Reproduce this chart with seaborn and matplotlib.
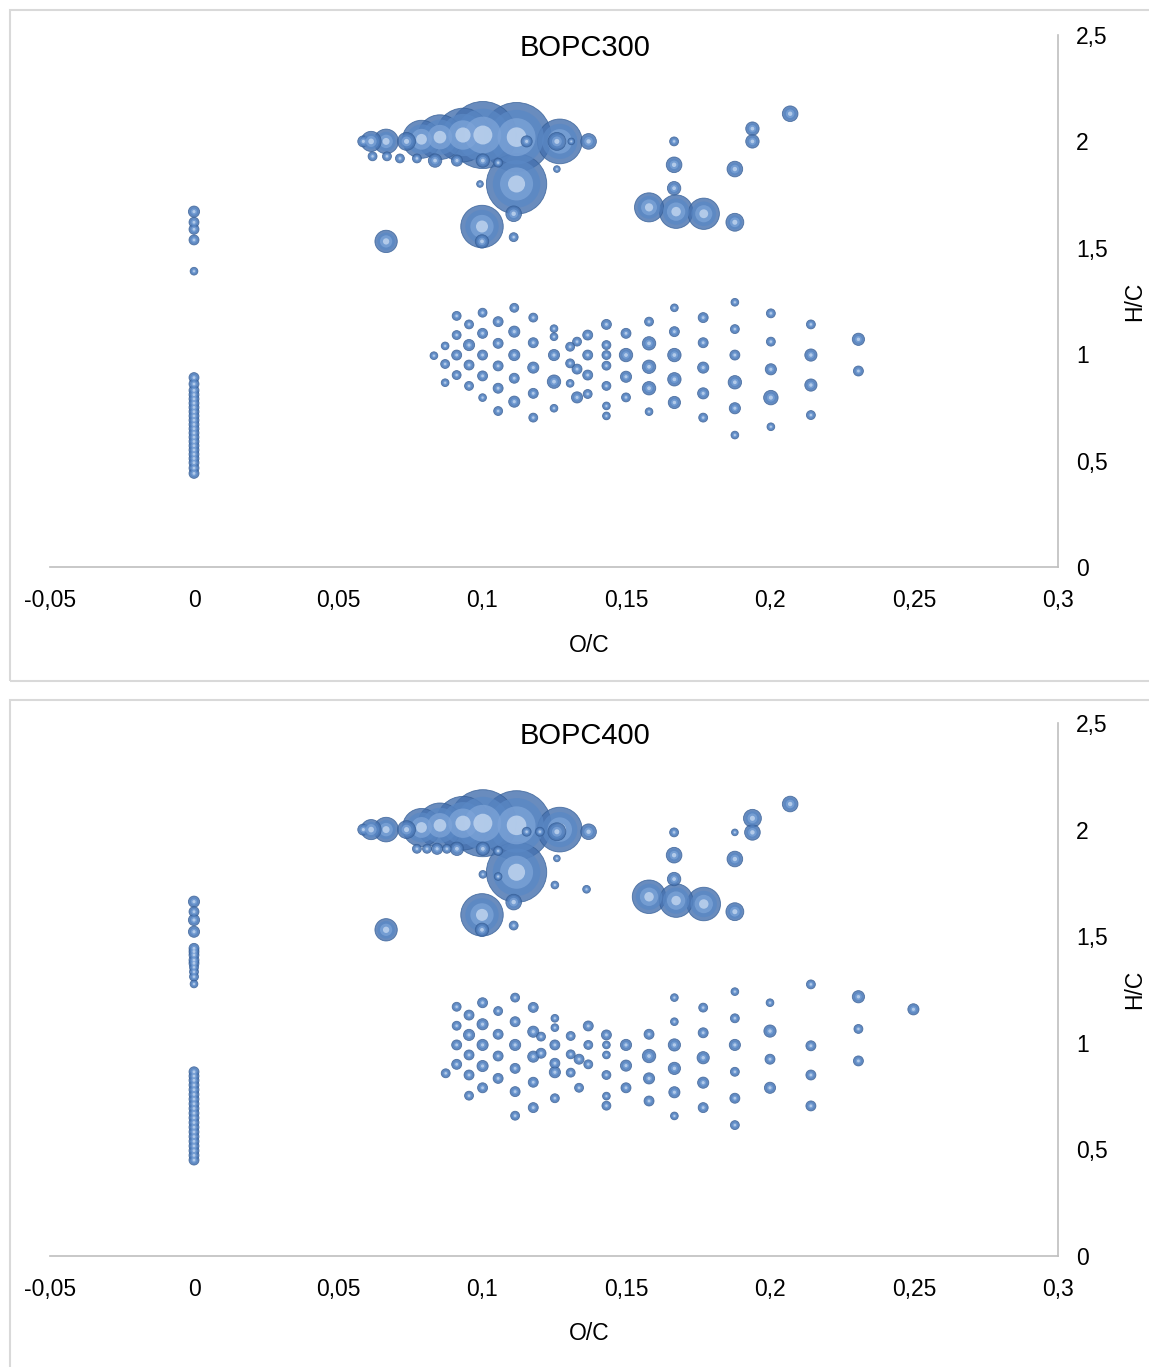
import numpy as np
import pandas as pd
import matplotlib
matplotlib.use("Agg")
import matplotlib.pyplot as plt
import seaborn as sns
from matplotlib.patches import Rectangle

sns.set_theme(style="white")
plt.rcParams['font.family'] = ['Liberation Sans', 'DejaVu Sans']

# ---------------- data ----------------
x_ticks = [-0.05, 0, 0.05, 0.1, 0.15, 0.2, 0.25, 0.3]
x_ticklabels = ['-0,05', '0', '0,05', '0,1', '0,15', '0,2', '0,25', '0,3']
y_ticks = [0, 0.5, 1, 1.5, 2, 2.5]
y_ticklabels = ['0', '0,5', '1', '1,5', '2', '2,5']
titles = ['BOPC300', 'BOPC400']

# ---- BOPC300 ----
# O/C = 0 column
p1_zero_hc = [1.67, 1.62, 1.587, 1.537, 1.39,
              0.44, 0.465, 0.49, 0.51, 0.53, 0.55, 0.57, 0.59, 0.61, 0.63, 0.65,
              0.67, 0.69, 0.71, 0.73, 0.75, 0.77, 0.79, 0.81, 0.83, 0.86, 0.89]
p1_zero_ab = [25, 20, 20, 20, 12] + [20] * 22

# upper (H/C > 1.4) cluster
p1_up_oc = [0.0588, 0.0615, 0.0667, 0.0738, 0.0790, 0.0854, 0.0934, 0.1003, 0.1120,
            0.1270, 0.1120, 0.1000, 0.0667, 0.1000, 0.1110, 0.1110, 0.1370, 0.1155,
            0.1260, 0.1310, 0.0620, 0.0670, 0.0715, 0.0774, 0.0837, 0.0913, 0.1003,
            0.1056, 0.1260, 0.0993,
            0.2070, 0.1939, 0.1939, 0.1667, 0.1667, 0.1878, 0.1667, 0.1580, 0.1674,
            0.1770, 0.1878]
p1_up_hc = [2.00, 2.00, 2.00, 2.00, 2.01, 2.02, 2.03, 2.03, 2.02,
            2.00, 1.80, 1.60, 1.53, 1.53, 1.55, 1.66, 2.00, 2.00,
            2.00, 2.00, 1.93, 1.93, 1.92, 1.92, 1.91, 1.91, 1.91,
            1.90, 1.87, 1.80,
            2.13, 2.06, 2.00, 2.00, 1.89, 1.87, 1.78, 1.69, 1.67,
            1.66, 1.62]
p1_up_ab = [25, 81, 121, 64, 289, 400, 576, 900, 961,
            400, 729, 361, 100, 36, 16, 49, 49, 25,
            64, 9, 16, 16, 16, 16, 36, 25, 36,
            16, 9, 9,
            49, 36, 36, 16, 49, 49, 36, 169, 225,
            196, 64]

# lower (H/C < 1.3) cluster
p1_lo_oc = ([0.0833] + [0.0872] * 3 + [0.0912] * 4 + [0.0955] * 4 + [0.1002] * 5 +
            [0.1056] * 5 + [0.1112] * 5 + [0.1178] * 5 + [0.125] * 5 + [0.1306] * 3 +
            [0.133] * 3 + [0.1367] * 4 + [0.1432] * 7 + [0.150] * 4 + [0.158] * 5 +
            [0.1668] * 5 + [0.1768] * 5 + [0.1878] * 6 + [0.2003] * 5 + [0.2142] * 4 +
            [0.2307] * 2)
p1_lo_hc = [0.993,
            1.039, 0.954, 0.866,
            1.18, 1.09, 0.996, 0.902,
            1.14, 1.043, 0.949, 0.851,
            1.195, 1.098, 0.996, 0.898, 0.796,
            1.153, 1.051, 0.945, 0.84, 0.733,
            1.218, 1.106, 0.996, 0.887, 0.777,
            1.172, 1.054, 0.937, 0.816, 0.702,
            1.12, 1.082, 0.996, 0.871, 0.746,
            1.035, 0.957, 0.863,
            1.059, 0.93, 0.797,
            1.09, 0.996, 0.902, 0.813,
            1.14, 1.043, 0.996, 0.946, 0.851, 0.757, 0.71,
            1.098, 0.996, 0.894, 0.797,
            1.153, 1.051, 0.941, 0.84, 0.73,
            1.218, 1.106, 0.996, 0.882, 0.773,
            1.172, 1.054, 0.937, 0.816, 0.702,
            1.244, 1.118, 0.996, 0.868, 0.746, 0.62,
            1.192, 1.059, 0.929, 0.796, 0.659,
            1.14, 0.996, 0.855, 0.714,
            1.07, 0.921]
p1_lo_ab = [12,
            12, 16, 12,
            16, 16, 20, 16,
            16, 25, 20, 16,
            16, 20, 20, 20, 12,
            20, 20, 20, 20, 16,
            16, 25, 25, 20, 25,
            16, 20, 25, 20, 16,
            12, 12, 25, 36, 12,
            16, 16, 12,
            16, 20, 25,
            20, 20, 20, 16,
            20, 16, 16, 16, 16, 12, 12,
            20, 36, 25, 16,
            16, 36, 36, 36, 12,
            12, 20, 36, 36, 30,
            20, 20, 25, 25, 16,
            12, 16, 20, 36, 25, 12,
            16, 16, 25, 42, 12,
            16, 30, 30, 16,
            30, 20]

# ---- BOPC400 ----
p2_zero_hc = [1.662, 1.615, 1.576, 1.521, 1.443, 1.428, 1.412, 1.388, 1.373, 1.354,
              1.333, 1.31, 1.276,
              0.45, 0.472, 0.494, 0.516, 0.538, 0.56, 0.582, 0.604, 0.626, 0.648,
              0.67, 0.692, 0.714, 0.736, 0.758, 0.78, 0.802, 0.824, 0.844, 0.864]
p2_zero_ab = [25, 20, 25, 25, 20, 20, 20, 20, 20, 16, 16, 16, 12] + [20] * 20

p2_up_oc = [0.0588, 0.0615, 0.0667, 0.0738, 0.0790, 0.0854, 0.0934, 0.1003, 0.1120,
            0.1270, 0.1120, 0.1000, 0.0667, 0.1000, 0.1110, 0.1110, 0.1370, 0.1155,
            0.1201, 0.1260, 0.0774, 0.0809, 0.0844, 0.0878, 0.0913, 0.1003, 0.1056,
            0.1003, 0.1056, 0.1260, 0.1253, 0.1363,
            0.2070, 0.1939, 0.1939, 0.1878, 0.1667, 0.1667, 0.1878, 0.1667, 0.1580,
            0.1674, 0.1770, 0.1878]
p2_up_hc = [2.00, 2.00, 2.00, 2.00, 2.01, 2.02, 2.03, 2.03, 2.02,
            2.00, 1.80, 1.60, 1.53, 1.53, 1.55, 1.66, 1.99, 1.99,
            1.99, 1.99, 1.91, 1.91, 1.91, 1.91, 1.91, 1.91, 1.90,
            1.79, 1.78, 1.865, 1.74, 1.72,
            2.12, 2.053, 1.987, 1.987, 1.987, 1.88, 1.862, 1.768, 1.685,
            1.667, 1.651, 1.615]
p2_up_ab = [25, 81, 121, 64, 289, 400, 576, 900, 961,
            400, 729, 361, 100, 36, 16, 49, 49, 16,
            16, 64, 16, 16, 25, 16, 36, 36, 16,
            12, 12, 9, 12, 12,
            49, 64, 49, 9, 16, 49, 49, 36, 225,
            225, 225, 64]

p2_lo_oc = ([0.0874] + [0.0912] * 4 + [0.0955] * 5 + [0.1002] * 5 + [0.1056] * 4 +
            [0.1115] * 6 + [0.1178] * 5 + [0.1205] * 2 + [0.1253] * 6 + [0.1308] * 3 +
            [0.1337] * 2 + [0.1369] * 3 + [0.1432] * 6 + [0.150] * 3 + [0.158] * 4 +
            [0.1668] * 6 + [0.1768] * 5 + [0.1878] * 6 + [0.2] * 4 + [0.2142] * 4 +
            [0.2307] * 3 + [0.2498])
p2_lo_hc = [0.857,
            1.169, 1.08, 0.99, 0.899,
            1.13, 1.037, 0.943, 0.849, 0.752,
            1.188, 1.087, 0.99, 0.891, 0.789,
            1.149, 1.04, 0.938, 0.833,
            1.212, 1.099, 0.99, 0.88, 0.771, 0.658,
            1.166, 1.052, 0.935, 0.815, 0.696,
            1.029, 0.951,
            1.115, 1.071, 0.99, 0.904, 0.862, 0.74,
            1.032, 0.946, 0.86,
            0.923, 0.789,
            1.079, 0.99, 0.899,
            1.037, 0.99, 0.943, 0.849, 0.75, 0.705,
            0.99, 0.893, 0.789,
            1.04, 0.938, 0.833, 0.727,
            1.212, 1.099, 0.99, 0.88, 0.768, 0.657,
            1.165, 1.047, 0.93, 0.813, 0.696,
            1.24, 1.115, 0.99, 0.864, 0.74, 0.614,
            1.188, 1.055, 0.923, 0.789,
            1.274, 0.986, 0.849, 0.704,
            1.216, 1.065, 0.915,
            1.157]
p2_lo_ab = [16,
            16, 16, 20, 20,
            20, 25, 20, 20, 16,
            20, 25, 25, 25, 20,
            16, 20, 20, 20,
            16, 20, 25, 20, 20, 16,
            20, 25, 25, 20, 20,
            16, 20,
            12, 12, 20, 20, 25, 16,
            16, 16, 16,
            20, 16,
            20, 16, 16,
            20, 12, 12, 16, 12, 16,
            25, 25, 20,
            20, 36, 25, 20,
            12, 12, 30, 30, 25, 12,
            16, 20, 30, 25, 20,
            12, 16, 25, 16, 20, 16,
            12, 30, 20, 25,
            16, 20, 20, 20,
            30, 16, 20,
            25]

# ---------------- drawing ----------------
W, H = 1149, 1367
fig = plt.figure(figsize=(W / 100, H / 100), dpi=100)
fig.patch.set_facecolor('white')

# chart-area frames
for (y0, y1) in [(10, 681), (700, 1375)]:
    fig.patches.append(Rectangle((10 / W, 1 - y1 / H), (1160 - 10) / W, (y1 - y0) / H,
                                 transform=fig.transFigure, fill=False,
                                 edgecolor='#D9D9D9', linewidth=1.5))

axes_boxes = [(50, 35, 1058, 567), (50, 723, 1058, 1256)]

panels = [
    (p1_zero_hc, p1_zero_ab, p1_up_oc, p1_up_hc, p1_up_ab, p1_lo_oc, p1_lo_hc, p1_lo_ab),
    (p2_zero_hc, p2_zero_ab, p2_up_oc, p2_up_hc, p2_up_ab, p2_lo_oc, p2_lo_hc, p2_lo_ab),
]

VMAX = 1000.0
K = 2.0736 * 1.25  # area (pt^2) per unit of abundance at 100 dpi

layers = [
    dict(f=1.00, color='#4470AE', alpha=0.80, ec='#355E96', lw=0.6),
    dict(f=0.62, color='#5A88C5', alpha=0.75, ec='none', lw=0),
    dict(f=0.30, color='#7DA4D8', alpha=0.75, ec='none', lw=0),
    dict(f=0.08, color='#C2D6F0', alpha=0.8, ec='none', lw=0),
]

FS = 16.5

for i, (pan, box) in enumerate(zip(panels, axes_boxes)):
    zhc, zab, uoc, uhc, uab, loc_, lhc, lab = pan
    x0, y0, x1, y1 = box
    ax = fig.add_axes([x0 / W, 1 - y1 / H, (x1 - x0) / W, (y1 - y0) / H])
    df = pd.DataFrame({
        'oc': [0.0] * len(zhc) + list(uoc) + list(loc_),
        'hc': list(zhc) + list(uhc) + list(lhc),
        'ab': list(zab) + list(uab) + list(lab),
    })
    df = df.sort_values('ab', ascending=False)
    big = df[df['ab'] >= 100]
    small = df[df['ab'] < 100]
    for grp in [big, small]:
        for L in layers:
            sns.scatterplot(data=grp, x='oc', y='hc', size='ab',
                            sizes=(0, K * VMAX * L['f']), size_norm=(0, VMAX),
                            color=L['color'], alpha=L['alpha'], edgecolor=L['ec'],
                            linewidth=L['lw'], legend=False, ax=ax, zorder=3)

    ax.set_xlim(-0.05, 0.3)
    ax.set_ylim(0, 2.5)
    ax.set_xticks(x_ticks)
    ax.set_xticklabels(x_ticklabels)
    ax.set_yticks(y_ticks)
    ax.set_yticklabels(y_ticklabels)
    ax.yaxis.tick_right()
    ax.tick_params(axis='both', length=0, labelsize=FS, colors='#000000')
    ax.tick_params(axis='x', pad=16)
    ax.tick_params(axis='y', pad=13)
    for s in ['left', 'top']:
        ax.spines[s].set_visible(False)
    for s in ['right', 'bottom']:
        ax.spines[s].set_visible(True)
        ax.spines[s].set_color('#BFBFBF')
        ax.spines[s].set_linewidth(1.2)
    ax.set_facecolor('none')
    ax.grid(False)
    ax.set_xlabel('')
    ax.set_ylabel('')
    hgt = y1 - y0
    wid = x1 - x0
    ax.text((589 - x0) / wid, -78 / hgt, 'O/C', transform=ax.transAxes,
            ha='center', va='center', fontsize=FS, color='#000000')
    ax.text((1135 - x0) / wid, 0.5, 'H/C', transform=ax.transAxes, rotation=90,
            ha='center', va='center', fontsize=FS, color='#000000')
    ax.text((585 - x0) / wid, 1 - 12.5 / hgt, titles[i], transform=ax.transAxes,
            ha='center', va='center', fontsize=21, color='#000000')

fig.savefig('out.png', dpi=100, facecolor='white')
